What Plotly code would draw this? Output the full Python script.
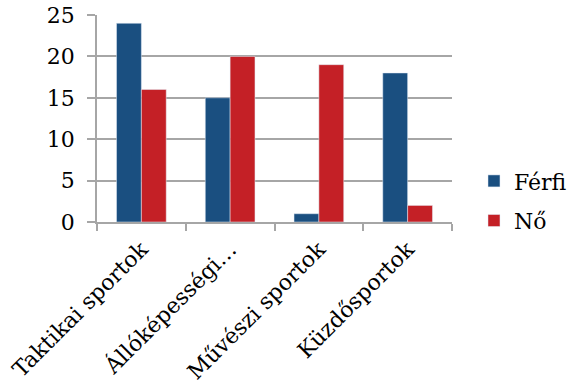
import plotly.graph_objects as go

categories = ["Taktikai sportok", "Állóképességi…", "Művészi sportok", "Küzdősportok"]
ferfi = [24, 15, 1, 18]
no = [16, 20, 19, 2]
y_ticks = [0, 5, 10, 15, 20, 25]

grid = "#a6a6a6"
font = dict(family="DejaVu Serif", size=22, color="#000000")

fig = go.Figure()
fig.add_trace(go.Bar(name="Férfi", x=categories, y=ferfi, marker_color="#1a4f80",
                     legendgroup="f"))
fig.add_trace(go.Bar(name="Nő", x=categories, y=no, marker_color="#c42026",
                     legendgroup="n"))

fig.update_layout(
    width=569, height=389,
    margin=dict(l=97, r=117, t=15, b=167, autoexpand=False),
    paper_bgcolor="white", plot_bgcolor="white",
    font=font,
    barmode="group", bargap=0.44, bargroupgap=0,
    showlegend=True,
    legend=dict(xref="container", yref="container", x=0.833, y=0.483,
                xanchor="left", yanchor="middle",
                tracegroupgap=8, font=font, itemwidth=30),
)
fig.update_xaxes(
    type="category", tickangle=-45, tickson="boundaries",
    ticks="outside", ticklen=7, tickcolor=grid, tickwidth=1.5,
    showline=True, linecolor=grid, linewidth=1.5,
    showgrid=False, tickfont=font, automargin=False,
    ticklabelstandoff=4,
)
fig.update_yaxes(
    range=[0, 25], tickvals=y_ticks,
    ticks="outside", ticklen=8, tickcolor=grid, tickwidth=1.5,
    showline=True, linecolor=grid, linewidth=1.5,
    showgrid=True, gridcolor=grid, gridwidth=1.5,
    zeroline=False, tickfont=font, automargin=False,
    ticklabelstandoff=8,
)

fig.write_html("out.html")
